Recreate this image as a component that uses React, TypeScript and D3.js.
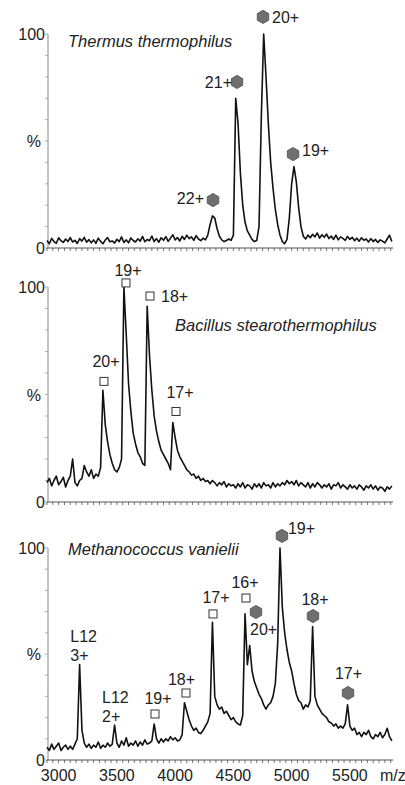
import React from "react";
import * as d3 from "d3";

// spectra sampled every 20 m/z starting at 2900 (values = relative intensity %)
const MZ_START = 2900;
const MZ_STEP = 20;

const thermusIntensity = [
  3.5, 2.0, 4.5, 3.0, 2.2, 4.8, 3.4, 2.6, 4.2, 3.0,
  4.9, 2.8, 3.6, 2.1, 4.4, 3.2, 5.0, 2.7, 3.9, 2.4,
  3.8, 2.2, 4.6, 3.1, 2.0, 3.7, 4.9, 2.9, 3.3, 2.3,
  4.1, 3.0, 5.2, 2.6, 3.8, 2.4, 4.7, 3.5, 2.8, 4.3,
  3.2, 5.4, 2.9, 4.0, 3.4, 5.6, 3.0, 4.4, 2.7, 4.8,
  3.6, 5.3, 3.1, 4.6, 6.2, 3.8, 4.9, 3.3, 5.5, 4.0,
  6.0, 4.4, 5.2, 3.6, 5.8, 4.2, 3.4, 4.6, 3.8, 6.0,
  11, 15, 14, 9, 5.5, 3.8, 3.0, 3.5, 4.2, 3.6,
  6, 70, 58, 35, 20, 12, 8, 6, 4, 3,
  3.5, 10, 62, 100, 80, 58, 40, 28, 18, 11,
  6, 3, 2, 4, 14, 30, 38, 31, 19, 10,
  5.5, 4.2, 6.0, 4.8, 6.4, 5.2, 7.0, 4.6, 6.2, 5.0,
  6.5, 4.4, 5.6, 4.0, 6.0, 3.8, 5.2, 4.5, 3.6, 5.4,
  4.0, 5.0, 3.4, 4.6, 3.2, 4.8, 3.6, 4.2, 2.8, 4.4,
  3.0, 4.0, 2.6, 3.8, 3.2, 2.4, 4.2, 6.0, 3.0,
];

const bacillusIntensity = [
  9, 11, 7.5, 10, 12, 8, 9.5, 11.5, 7, 10,
  12, 20, 9, 7.5, 10, 11, 17, 14, 12, 15,
  11, 13, 12, 16, 52, 36, 28, 22, 18, 15,
  14, 16, 20, 100, 78, 55, 42, 32, 27, 23,
  21, 18, 17, 91, 68, 52, 40, 33, 28, 24,
  22, 20, 18, 15, 37, 30, 24, 21, 19, 17,
  15, 14, 12.5, 13, 11, 12, 10, 11, 9.5, 10,
  8.5, 10, 9, 7.5, 9, 8, 9.5, 7, 8.5, 7.5,
  8, 6.5, 8.5, 7, 9, 6.5, 8, 7.5, 6, 8.5,
  7, 8.5, 6.5, 9, 7.5, 8, 6.5, 9, 7, 8.5,
  7.5, 9, 8, 10, 8.5, 9.5, 8, 10, 7.5, 9,
  8, 7, 9, 6.5, 8.5, 7, 9, 8, 6.5, 8,
  7, 8.5, 6, 8, 7.5, 9, 6.5, 8, 7, 6,
  8, 6.5, 7.5, 6, 8, 7, 5.5, 7.5, 6.5, 8,
  6, 7.5, 5.5, 7, 6.5, 5, 7, 6, 7.5,
];

const methanoIntensity = [
  6, 4.5, 7.5, 5, 6.5, 8, 4.5, 6, 7, 5,
  6.5, 5, 7.5, 10, 45, 14, 8, 6, 7.5, 5.5,
  7, 6, 8.5, 5.5, 7, 6, 8, 6.5, 7.5, 16.5,
  8, 6, 9, 7, 10.5, 6.5, 8, 7, 9, 6.5,
  8.5, 7, 9.5, 7.5, 8, 9, 17, 10, 8, 10,
  8.5, 10, 9, 11, 9.5, 10.5, 9, 9.5, 12, 27,
  23, 19, 16, 14, 15, 13, 12.5, 14, 16, 18,
  22, 65, 30, 26, 24, 25, 22, 23, 21, 19,
  20, 18, 17, 16.5, 21, 69, 45, 54, 42, 37,
  34, 31, 29, 26, 24, 26, 27, 30, 36, 55,
  100, 72, 60, 52, 46, 42, 36, 31, 28, 27,
  24, 26, 25, 28, 63, 30, 26, 24, 22, 21,
  20, 18, 17.5, 16, 17, 15, 16, 15, 17, 26,
  16, 14, 15, 12, 13, 11, 13, 12, 14, 11,
  10, 12, 11, 13, 10.5, 12, 15, 11, 9,
];

const speciesNames = ["Thermus thermophilus", "Bacillus stearothermophilus", "Methanococcus vanielii"];

// peak annotations: charge label, m/z and height (%) of the marker
const thermusPeaks = [
  { label: "22+", mz: 4325, pct: 22.4, marker: "hex" },
  { label: "21+", mz: 4531, pct: 77.6, marker: "hex" },
  { label: "20+", mz: 4754, pct: 108, marker: "hex" },
  { label: "19+", mz: 5012, pct: 43.9, marker: "hex" },
];
const bacillusPeaks = [
  { label: "20+", mz: 3389, pct: 56.1, marker: "square" },
  { label: "19+", mz: 3578, pct: 101.9, marker: "square" },
  { label: "18+", mz: 3784, pct: 95.8, marker: "square" },
  { label: "17+", mz: 4007, pct: 42.1, marker: "square" },
];
const methanoPeaks = [
  { label: "L12|3+", mz: 3177, pct: 55.7, marker: "none" },
  { label: "L12|2+", mz: 3484, pct: 26.9, marker: "none" },
  { label: "19+", mz: 3827, pct: 21.7, marker: "square" },
  { label: "18+", mz: 4093, pct: 31.6, marker: "square" },
  { label: "17+", mz: 4325, pct: 68.9, marker: "square" },
  { label: "16+", mz: 4608, pct: 76.4, marker: "square" },
  { label: "20+", mz: 4694, pct: 69.8, marker: "hex" },
  { label: "19+", mz: 4917, pct: 105.7, marker: "hex" },
  { label: "18+", mz: 5183, pct: 67.9, marker: "hex" },
  { label: "17+", mz: 5484, pct: 31.6, marker: "hex" },
];

const xTickLabels = [3000, 3500, 4000, 4500, 5000, 5500];
const yTickValues = [0, 10, 20, 30, 40, 50, 60, 70, 80, 90, 100];

// label placement: dx, baseline dy from the marker centre, anchor (same order as the peak lists)
const thermusLabelPos = [
  [-9, 4, "end"], [-5, 6, "end"], [9, 6, "start"], [9, 2, "start"],
];
const bacillusLabelPos = [
  [2, -14, "middle"], [2, -7, "middle"], [11, 6, "start"], [4, -13, "middle"],
];
const methanoLabelPos = [
  [-9, 0, "start"], [-13, 0, "start"], [3, -10, "middle"], [-4.5, -8, "middle"],
  [3, -11, "middle"], [-1, -10, "middle"], [-6, 23, "start"], [6, -2, "start"],
  [2, -11, "middle"], [0.5, -14, "middle"],
];

const W = 405;
const H = 785;
const FONT = "'Liberation Sans', Arial, sans-serif";

const panels = [
  { data: thermusIntensity, peaks: thermusPeaks, pos: thermusLabelPos, top: 34, bottom: 248, title: [68, 47, "start"] },
  { data: bacillusIntensity, peaks: bacillusPeaks, pos: bacillusLabelPos, top: 287, bottom: 502, title: [175, 331, "start"] },
  { data: methanoIntensity, peaks: methanoPeaks, pos: methanoLabelPos, top: 548, bottom: 760, title: [68, 555, "start"] },
];

const x = d3.scaleLinear().domain([2900, 5870]).range([47, 393]);
const minorX = d3.range(2900, 5871, 50);

function hexPath(cx: number, cy: number, r: number) {
  const pts = d3.range(6).map((k) => {
    const a = (Math.PI / 3) * k - Math.PI / 2;
    return [cx + r * Math.cos(a), cy + r * Math.sin(a)];
  });
  return "M" + pts.map((p) => p.join(",")).join("L") + "Z";
}

function Panel({ p, idx }: { p: any; idx: number }) {
  const y = d3.scaleLinear().domain([0, 100]).range([p.bottom, p.top]);
  const line = d3
    .line<number>()
    .x((_, i) => x(MZ_START + i * MZ_STEP))
    .y((d) => y(d));

  return (
    <g>
      {/* y axis */}
      <line x1={48} x2={48} y1={p.top} y2={p.bottom} stroke="#8a8a8a" strokeWidth={1} />
      {yTickValues.map((t) => (
        <line key={t} x1={45} x2={48} y1={y(t)} y2={y(t)} stroke="#9a9a9a" strokeWidth={0.8} />
      ))}
      <text x={45} y={y(100) + 6} textAnchor="end" fontSize={16} fill="#222" fontFamily={FONT}>100</text>
      <text x={41} y={y(50) + 6} textAnchor="end" fontSize={16} fill="#222" fontFamily={FONT}>%</text>
      <text x={45} y={y(0) + 6} textAnchor="end" fontSize={16} fill="#222" fontFamily={FONT}>0</text>

      {/* x axis */}
      <line x1={47} x2={393} y1={p.bottom} y2={p.bottom} stroke="#555" strokeWidth={1} />
      {minorX.map((t) => (
        <line key={t} x1={x(t)} x2={x(t)} y1={p.bottom} y2={p.bottom + 3} stroke="#555" strokeWidth={0.8} />
      ))}

      {/* spectrum */}
      <path d={line(p.data) || ""} fill="none" stroke="#111" strokeWidth={1.6} strokeLinejoin="round" />

      {/* species name */}
      <text x={p.title[0]} y={p.title[1]} textAnchor={p.title[2]} fontSize={16.5} fontStyle="italic" fill="#222" fontFamily={FONT}>
        {speciesNames[idx]}
      </text>

      {/* peak markers and labels */}
      {p.peaks.map((pk: any, i: number) => {
        const cx = x(pk.mz);
        const cy = y(pk.pct);
        const [dx, dy, anchor] = p.pos[i];
        const parts = pk.label.split("|");
        return (
          <g key={i}>
            {pk.marker === "hex" && (
              <path d={hexPath(cx, cy, 6.6)} fill="#6f6f6f" stroke="#4a4a4a" strokeWidth={0.8} />
            )}
            {pk.marker === "square" && (
              <rect x={cx - 4} y={cy - 4} width={8} height={8} fill="#fff" stroke="#333" strokeWidth={1} />
            )}
            {parts.map((s: string, j: number) => (
              <text
                key={j}
                x={cx + dx}
                y={cy + dy + j * 19}
                textAnchor={anchor}
                fontSize={16}
                fill="#222"
                fontFamily={FONT}
              >
                {s}
              </text>
            ))}
          </g>
        );
      })}
    </g>
  );
}

export default function App() {
  const last = panels[2];
  return (
    <svg width={W} height={H} style={{ position: "absolute", left: 0, top: 0, background: "#fff" }}>
      <rect width={W} height={H} fill="#fff" />
      {panels.map((p, i) => (
        <Panel key={i} p={p} idx={i} />
      ))}
      {xTickLabels.map((t) => (
        <text key={t} x={x(t)} y={last.bottom + 21} textAnchor="middle" fontSize={16} fill="#222" fontFamily={FONT}>
          {t}
        </text>
      ))}
      <text x={380} y={last.bottom + 21} textAnchor="start" fontSize={16} fill="#222" fontFamily={FONT}>m/z</text>
    </svg>
  );
}
